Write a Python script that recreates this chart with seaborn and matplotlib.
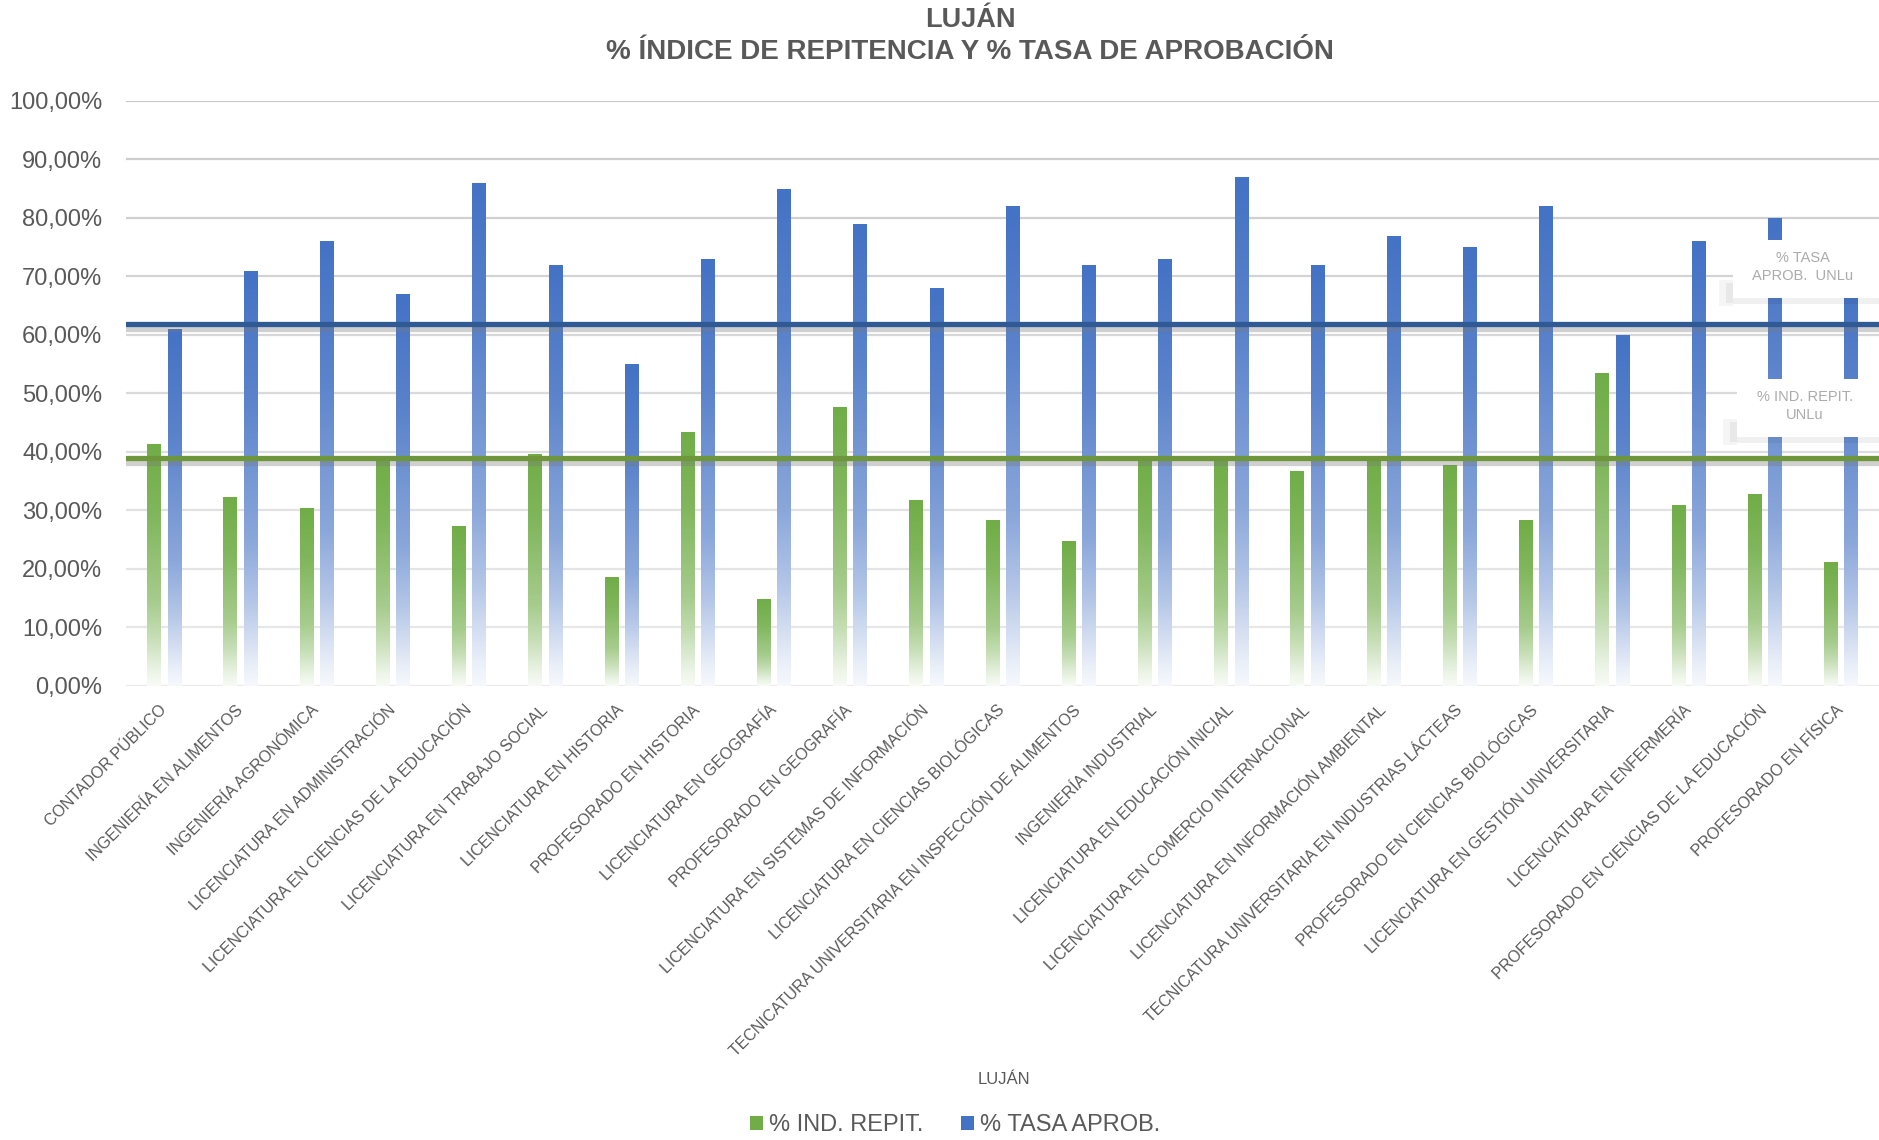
import numpy as np
import pandas as pd
import matplotlib
matplotlib.use('Agg')
import matplotlib.pyplot as plt
import matplotlib.patheffects as pe
from matplotlib.patches import Rectangle, Patch
from matplotlib.colors import to_rgb
import seaborn as sns

# datos
carreras = [
    "CONTADOR PÚBLICO",
    "INGENIERÍA EN ALIMENTOS",
    "INGENIERÍA AGRONÓMICA",
    "LICENCIATURA EN ADMINISTRACIÓN",
    "LICENCIATURA EN CIENCIAS DE LA EDUCACIÓN",
    "LICENCIATURA EN TRABAJO SOCIAL",
    "LICENCIATURA EN HISTORIA",
    "PROFESORADO EN HISTORIA",
    "LICENCIATURA EN GEOGRAFÍA",
    "PROFESORADO EN GEOGRAFÍA",
    "LICENCIATURA EN SISTEMAS DE INFORMACIÓN",
    "LICENCIATURA EN CIENCIAS BIOLÓGICAS",
    "TECNICATURA UNIVERSITARIA EN INSPECCIÓN DE ALIMENTOS",
    "INGENIERÍA INDUSTRIAL",
    "LICENCIATURA EN EDUCACIÓN INICIAL",
    "LICENCIATURA EN COMERCIO INTERNACIONAL",
    "LICENCIATURA EN INFORMACIÓN AMBIENTAL",
    "TECNICATURA UNIVERSITARIA EN INDUSTRIAS LÁCTEAS",
    "PROFESORADO EN CIENCIAS BIOLÓGICAS",
    "LICENCIATURA EN GESTIÓN UNIVERSITARIA",
    "LICENCIATURA EN ENFERMERÍA",
    "PROFESORADO EN CIENCIAS DE LA EDUCACIÓN",
    "PROFESORADO EN FÍSICA",
]
ind_repit = [41.3, 32.3, 30.4, 38.8, 27.3, 39.6, 18.6, 43.4, 14.8, 47.7, 31.8, 28.3,
             24.7, 38.7, 38.7, 36.7, 38.7, 37.7, 28.3, 53.5, 30.8, 32.8, 21.2]
tasa_aprob = [61.0, 70.9, 76.1, 67.0, 86.0, 71.9, 55.0, 73.0, 84.9, 79.0, 68.0, 82.0,
              71.9, 73.0, 87.0, 72.0, 76.9, 75.0, 82.0, 60.0, 76.1, 80.0, 70.0]
series = ["% IND. REPIT.", "% TASA APROB."]
ind_repit_unlu = 38.9
tasa_aprob_unlu = 61.9

verde = '#70AD47'
azul = '#4472C4'
gris = '#595959'

df = pd.DataFrame({
    'carrera': carreras * 2,
    'valor': ind_repit + tasa_aprob,
    'serie': [series[0]] * len(carreras) + [series[1]] * len(carreras),
})

sns.set_style('white')
plt.rcParams['font.family'] = ['Liberation Sans', 'DejaVu Sans']

fig = plt.figure(figsize=(18.79, 11.40), dpi=100)
ax = fig.add_axes([126 / 1879, 1 - 685.5 / 1140, 1 - 126 / 1879, (685.5 - 101) / 1140])

sns.barplot(data=df, x='carrera', y='valor', hue='serie', order=carreras,
            hue_order=series, palette=[verde, azul], width=0.533, gap=0.335,
            errorbar=None, legend=False, linewidth=0, ax=ax)

# degradado en cada barra
def degradado(base, n=200):
    t = np.linspace(0, 1, n)
    w = np.interp(t, [0, 0.05, 0.2, 0.35, 0.7, 1], [0.95, 0.88, 0.6, 0.38, 0.12, 0])
    rgb = np.array(to_rgb(base))
    col = rgb[None, :] * (1 - w[:, None]) + w[:, None]
    return col[:, None, :]

for cont, base in zip(ax.containers, [verde, azul]):
    img = degradado(base)
    for bar in cont:
        x0 = bar.get_x()
        w = bar.get_width()
        h = bar.get_height()
        ax.imshow(img, extent=[x0, x0 + w, 0, h], origin='lower', aspect='auto',
                  interpolation='bilinear', zorder=2)
        bar.set_visible(False)

# grilla
for v in range(0, 101, 10):
    c = np.interp(v, [0, 100], [0.92, 0.79])
    ax.axhline(v, color=(c, c, c), lw=1.6, zorder=0.5)

# lineas promedio UNLu
sombra = [pe.SimpleLineShadow(offset=(0, -3.5), shadow_color='#7a7a7a', alpha=0.35),
          pe.Normal()]
ax.axhline(tasa_aprob_unlu, color='#305A94', lw=3.8, zorder=4, path_effects=sombra)
ax.axhline(ind_repit_unlu, color='#6E963A', lw=3.8, zorder=4, path_effects=sombra)

ax.set_xlim(-0.5, len(carreras) - 0.5)
ax.set_ylim(0, 100)
ax.set_yticks(range(0, 101, 10))
ax.set_yticklabels([f"{v:.2f}%".replace('.', ',') for v in range(0, 101, 10)])
ax.tick_params(axis='y', labelsize=17, labelcolor=gris, length=0, pad=17)
ax.set_xticks(range(len(carreras)))
ax.set_xticklabels(carreras, rotation=45, ha='right', va='center',
                   rotation_mode='anchor', fontsize=11.5, color=gris)
ax.tick_params(axis='x', length=0, pad=16)
ax.set_xlabel('')
ax.set_ylabel('')
sns.despine(ax=ax, left=True, bottom=True)

# cuadros de etiquetas
def px(x, y):
    return x / 1879, 1 - y / 1140

def cuadro(x0, x1, y0, y1, texto):
    fig.add_artist(Rectangle(px(x0, y1), (x1 - x0) / 1879, (y1 - y0) / 1140,
                             transform=fig.transFigure, color='white', lw=0, zorder=5))
    fig.add_artist(Rectangle(px(x0 - 14, y1 + 8), 14 / 1879, 26 / 1140,
                             transform=fig.transFigure, color='black', alpha=0.04, lw=0, zorder=6))
    fig.add_artist(Rectangle(px(x0 - 7, y1 + 5), 7 / 1879, 20 / 1140,
                             transform=fig.transFigure, color='black', alpha=0.05, lw=0, zorder=6))
    fig.add_artist(Rectangle(px(x0, y1 + 6), (x1 - x0) / 1879, 6 / 1140,
                             transform=fig.transFigure, color='black', alpha=0.06, lw=0, zorder=6))
    cx, cy = px((x0 + x1) / 2 - 3, (y0 + y1) / 2 - 2)
    fig.text(cx, cy, texto, ha='center', va='center', fontsize=10.5,
             color='#ABABAB', linespacing=1.3, zorder=7)

cuadro(1733, 1879, 240, 298, "% TASA\nAPROB.  UNLu")
cuadro(1737, 1879, 379, 437, "% IND. REPIT.\nUNLu")

# titulos
fig.text(970 / 1879, 1 - 20 / 1140, 'LUJÁN', ha='center', va='center',
         fontsize=19.5, weight='bold', color=gris)
fig.text(970 / 1879, 1 - 52 / 1140, '% ÍNDICE DE REPITENCIA Y % TASA DE APROBACIÓN',
         ha='center', va='center', fontsize=20, weight='bold', color=gris)
fig.text(1004 / 1879, 1 - 1080 / 1140, 'LUJÁN', ha='center', va='center',
         fontsize=12, color=gris)

handles = [Patch(facecolor=verde, lw=0), Patch(facecolor=azul, lw=0)]
fig.legend(handles, series, loc='center', bbox_to_anchor=(955 / 1879, 1 - 1125 / 1140),
           ncol=2, frameon=False, fontsize=17, handlelength=0.55, handleheight=0.55,
           handletextpad=0.25, columnspacing=1.6, labelcolor=gris)

plt.savefig('out.png', dpi=100)
